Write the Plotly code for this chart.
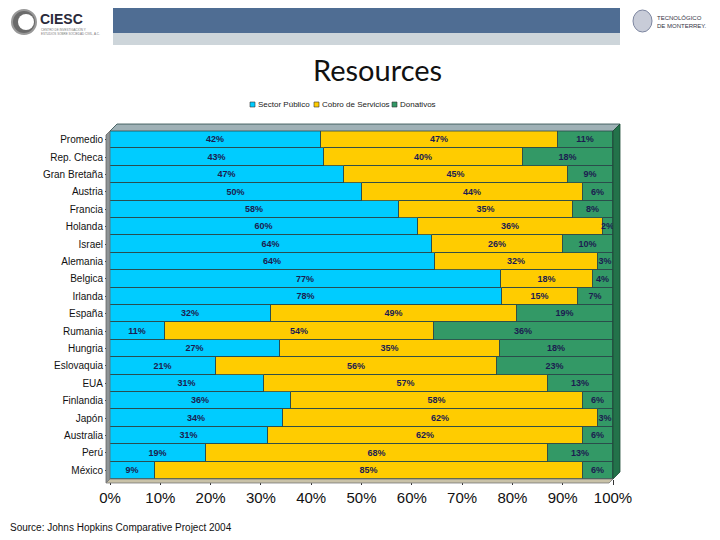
import plotly.graph_objects as go

countries = ["Promedio", "Rep. Checa", "Gran Bretaña", "Austria", "Francia", "Holanda",
             "Israel", "Alemania", "Belgica", "Irlanda", "España", "Rumania", "Hungria",
             "Eslovaquia", "EUA", "Finlandia", "Japón", "Australia", "Perú", "México"]
sector_publico = [42, 43, 47, 50, 58, 60, 64, 64, 77, 78, 32, 11, 27, 21, 31, 36, 34, 31, 19, 9]
cobro_servicios = [47, 40, 45, 44, 35, 36, 26, 32, 18, 15, 49, 54, 35, 56, 57, 58, 62, 62, 68, 85]
donativos = [11, 18, 9, 6, 8, 2, 10, 3, 4, 7, 19, 36, 18, 23, 13, 6, 3, 6, 13, 6]
tick_vals = [0, 10, 20, 30, 40, 50, 60, 70, 80, 90, 100]
tick_text = ["0%", "10%", "20%", "30%", "40%", "50%", "60%", "70%", "80%", "90%", "100%"]

series = [
    ("Sector Público", sector_publico, "#00CCFF"),
    ("Cobro de Servicios", cobro_servicios, "#FFCC00"),
    ("Donativos", donativos, "#339966"),
]

fig = go.Figure()
for name, vals, color in series:
    fig.add_trace(go.Bar(
        y=countries, x=vals, name=name, orientation="h",
        marker=dict(color=color, line=dict(color="#2a4a4a", width=0.8)),
        text=[f"{v}%" for v in vals], textposition="inside", insidetextanchor="middle",
        textangle=0,
        textfont=dict(size=9, color="#1c1c50", family="Liberation Sans", weight="bold"),
        hoverinfo="skip", showlegend=False,
    ))

# the page draws the figure 8px in from the window corner
OFF = 8
# plot area in screen pixels: x 110..613, y 131..479
L, R, T, B = 110, 613, 131, 479
def px(x): return (x - L) / (R - L)
def py(y): return (B - y) / (B - T)

def poly(points, fill, line="#2a4a4a", width=0.8):
    d = "M " + " L ".join(f"{px(x):.5f},{py(y):.5f}" for x, y in points) + " Z"
    return dict(type="path", xref="paper", yref="paper", path=d, fillcolor=fill,
                line=dict(color=line, width=width))

shapes = [
    dict(type="rect", xref="paper", yref="paper", x0=px(113), x1=px(620), y0=py(0), y1=py(33),
         fillcolor="#4F6D93", line=dict(width=0), layer="below"),
    dict(type="rect", xref="paper", yref="paper", x0=px(113), x1=px(620), y0=py(33), y1=py(45),
         fillcolor="#CDD5DA", line=dict(width=0), layer="below"),
    dict(type="circle", xref="paper", yref="paper", x0=px(12), x1=px(36), y0=py(34), y1=py(10),
         fillcolor="#6b6b6b", line=dict(color="#999", width=2), layer="below"),
    dict(type="circle", xref="paper", yref="paper", x0=px(18), x1=px(34), y0=py(30), y1=py(14),
         fillcolor="white", line=dict(width=0), layer="below"),
    dict(type="circle", xref="paper", yref="paper", x0=px(633), x1=px(652), y0=py(32), y1=py(10),
         fillcolor="#c8ccd8", line=dict(color="#7d86a0", width=1), layer="below"),
    # 3-D look: back wall top, right side face, left wall, floor
    poly([(110, 131), (117, 124), (620, 124), (613, 131)], "#9fb1b6"),
    poly([(613, 479), (620, 472), (620, 124), (613, 131)], "#23724a", line="#1a4a33"),
    poly([(106, 135), (110, 131), (110, 479), (106, 483)], "#8e9496", line="#666"),
    poly([(106, 483), (110, 479), (613, 479), (609, 483)], "#c9c2a8", line="#777"),
]

# legend drawn as small coloured squares with labels
legend_x = [250, 314, 392]
for (name, vals, color), lx in zip(series, legend_x):
    shapes.append(dict(type="rect", xref="paper", yref="paper", x0=px(lx), x1=px(lx + 5),
                       y0=py(107), y1=py(102), fillcolor=color, line=dict(color="#333", width=0.6)))

def note(text, x, y, size, xanchor="center", color="#111", family="Liberation Sans", align="center"):
    return dict(text=text, x=px(x), y=py(y), xref="paper", yref="paper", showarrow=False,
                xanchor=xanchor, yanchor="middle", align=align,
                font=dict(size=size, family=family, color=color))

annotations = [
    note("Resources", 377, 70, 29, family="Lato"),
    note("<b>CIESC</b>", 38, 19, 14, xanchor="left", color="#2a2a3a"),
    note("CENTRO DE INVESTIGACIÓN Y<br>ESTUDIOS SOBRE SOCIEDAD CIVIL, A.C.", 39, 31, 3,
         xanchor="left", color="#777", align="left"),
    note("TECNOLÓGICO<br>DE MONTERREY.", 655, 22, 6, xanchor="left", color="#334", align="left"),
    note("Source: Johns Hopkins Comparative Project 2004", 8, 527, 10, xanchor="left"),
]
for (name, vals, color), lx in zip(series, legend_x):
    annotations.append(note(name, lx + 6, 104.5, 8, xanchor="left", color="#222"))

fig.update_layout(
    width=720 - OFF, height=540 - OFF,
    barmode="stack", barnorm="percent", bargap=0.0,
    margin=dict(l=L - OFF, r=720 - R, t=T - OFF, b=540 - B),
    paper_bgcolor="white", plot_bgcolor="#dcdcdc",
    showlegend=False,
    uniformtext=dict(minsize=8, mode="show"),
    shapes=shapes, annotations=annotations,
)
fig.update_xaxes(range=[0, 100], tickvals=tick_vals, ticktext=tick_text,
                 tickfont=dict(size=15, family="Liberation Sans", color="#111"),
                 showgrid=False, ticks="outside", ticklen=5, tickcolor="#333",
                 showline=False, zeroline=False)
fig.update_yaxes(autorange="reversed", tickfont=dict(size=10, family="Liberation Sans", color="#111"),
                 ticks="outside", ticklen=4, tickcolor="#333", showline=False)

fig.write_html("out.html")
